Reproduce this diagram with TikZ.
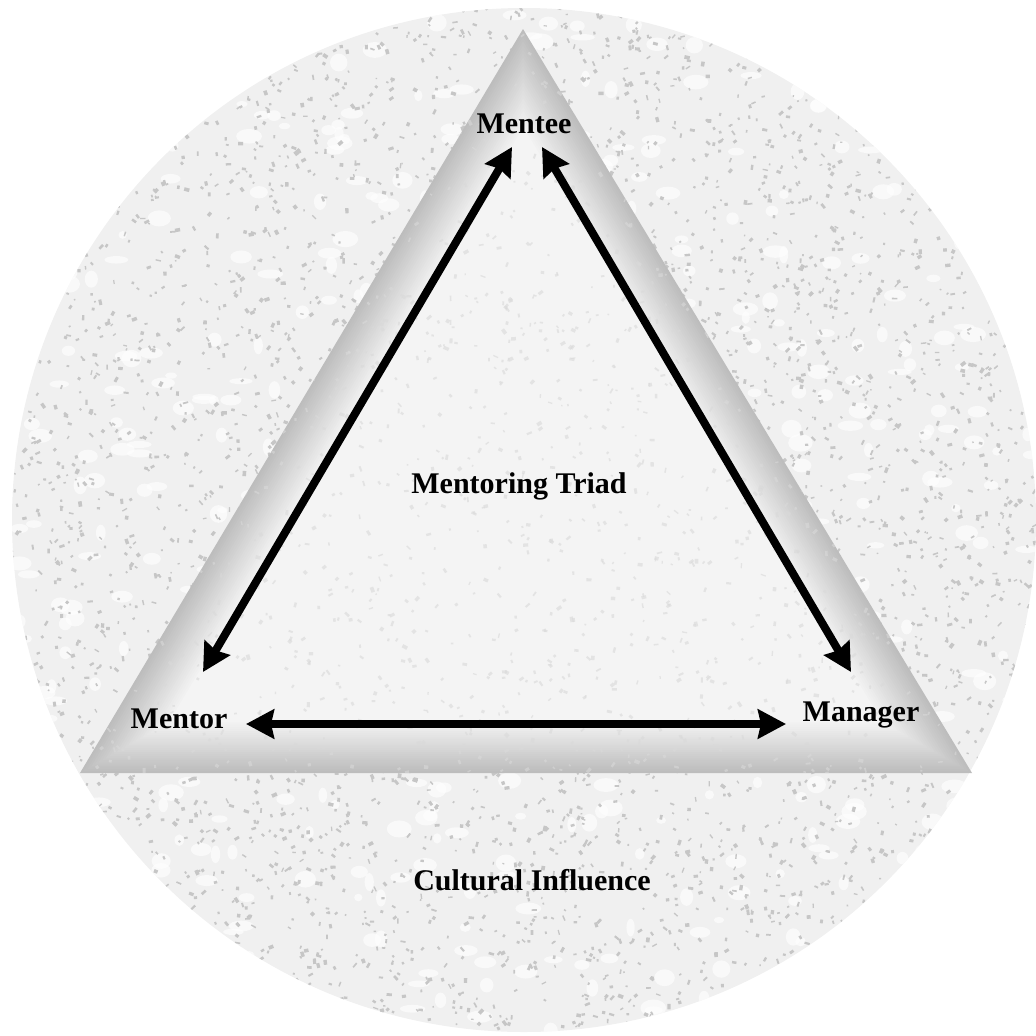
\documentclass[tikz,border=0pt]{standalone}
\usepackage{fontspec}
\setmainfont{Liberation Serif}
\usetikzlibrary{arrows.meta}

\newcommand{\tripath}{(523,29) -- (80,773) -- (972,773) -- cycle}

\begin{document}
\begin{tikzpicture}[
      x=1pt, y=-1pt,
      lbl/.style={font=\fontsize{30}{36}\selectfont\bfseries, anchor=base,
                  inner sep=0pt},
      arr/.style={{Stealth[length=28pt, width=29pt, inset=3pt]}-{Stealth[length=28pt, width=29pt, inset=3pt]},
                  line width=8pt},
      spk/.style={fill=gray!45},
      wspk/.style={fill=white, opacity=0.6},
      fspk/.style={fill=gray!30, opacity=0.6},
    ]
    \useasboundingbox (0,0) rectangle (1036,1036);

    % ── Cultural circle ──
    \coordinate (cc) at (524,520);
    \fill[gray!12] (cc) circle [radius=512pt];
    \begin{scope}
      \clip (cc) circle [radius=512pt];
      \pgfmathsetseed{42}
      \foreach \k in {1,...,600}{
        \pgfmathsetmacro{\px}{12+1024*rnd}
        \pgfmathsetmacro{\py}{8+1024*rnd}
        \pgfmathsetmacro{\ra}{4+9*rnd}
        \pgfmathsetmacro{\rb}{3+6*rnd}
        \fill[wspk] (\px,\py) ellipse [x radius=\ra pt, y radius=\rb pt];
      }
      \foreach \k in {1,...,5000}{
        \pgfmathsetmacro{\px}{12+1024*rnd}
        \pgfmathsetmacro{\py}{8+1024*rnd}
        \pgfmathsetmacro{\ra}{1.5+4*rnd}
        \pgfmathsetmacro{\rb}{1.2+2.5*rnd}
        \pgfmathsetmacro{\rt}{180*rnd}
        \fill[spk, rotate around={\rt:(\px,\py)}] (\px,\py)
          rectangle ++(\ra,\rb);
      }
    \end{scope}

    % ── Triad triangle, bevelled ──
    \foreach \i in {0,...,24}{
      \pgfmathsetmacro{\f}{1-\i*2.1/252.6}
      \pgfmathsetmacro{\g}{52-\i*1.8}
      \fill[gray!\g, scale around={\f:(524.5,520.4)}] \tripath;
    }
    \begin{scope}
      \clip \tripath;
      \foreach \k in {1,...,2000}{
        \pgfmathsetmacro{\px}{80+892*rnd}
        \pgfmathsetmacro{\py}{29+744*rnd}
        \pgfmathsetmacro{\ra}{1.5+4*rnd}
        \pgfmathsetmacro{\rb}{1.2+2.5*rnd}
        \pgfmathsetmacro{\rt}{180*rnd}
        \fill[fspk, rotate around={\rt:(\px,\py)}] (\px,\py)
          rectangle ++(\ra,\rb);
      }
    \end{scope}

    % ── Labels ──
    \node[lbl] (mentee) at (524,133) {Mentee};
    \node[lbl] (mentor) at (179,728) {Mentor};
    \node[lbl] (manager) at (861,721) {Manager};
    \node[lbl] (triad) at (519,493) {Mentoring Triad};
    \node[lbl] (culture) at (532,890) {Cultural Influence};

    % arrow ends
    \coordinate (torA) at (203,672);
    \coordinate (teeL) at (512,147);
    \coordinate (teeR) at (542,147);
    \coordinate (mgrA) at (851,672);
    \coordinate (torB) at (246,724);
    \coordinate (mgrB) at (786,724);

    % ── Arrows ──
    \draw[arr] (torA) -- (teeL);
    \draw[arr] (teeR) -- (mgrA);
    \draw[arr] (torB) -- (mgrB);
  \end{tikzpicture}
\end{document}
